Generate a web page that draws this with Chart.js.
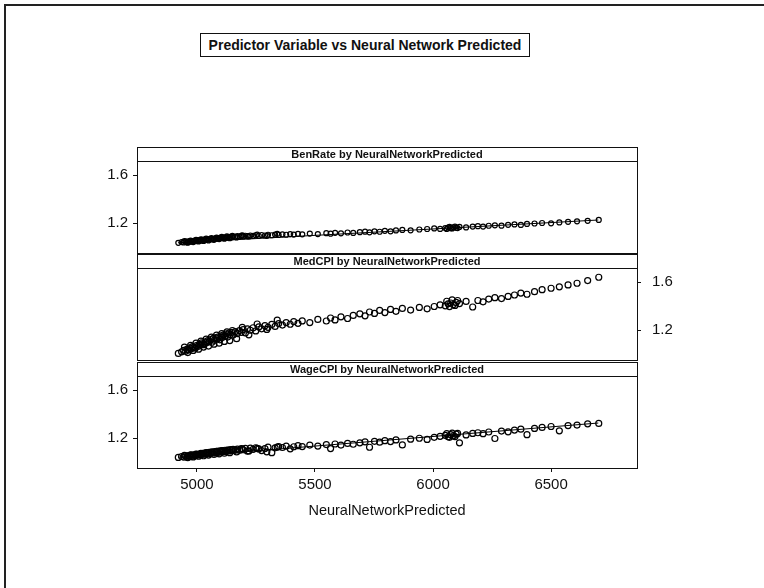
<!DOCTYPE html>
<html>
<head>
<meta charset="utf-8">
<script src="https://cdn.jsdelivr.net/npm/chart.js@4.4.1/dist/chart.umd.min.js"></script>
<style>
  html, body { margin: 0; padding: 0; background: #fff; }
  body { width: 764px; height: 588px; position: relative; overflow: hidden; font-family: "Liberation Sans", Arial, sans-serif; }
  #frame { position: absolute; left: 4px; top: 4px; width: 800px; height: 700px; border-top: 2px solid #222; border-left: 2px solid #222; }
  #title { position: absolute; left: 200px; top: 33px; width: 328px; height: 22px; border: 1.5px solid #111; font-size: 14px; font-weight: bold; line-height: 22px; text-align: center; color: #111; white-space: nowrap; }
  canvas { position: absolute; left: 0; top: 0; }
</style>
</head>
<body>
<div id="frame"></div>
<div id="title">Predictor Variable vs Neural Network Predicted</div>
<canvas id="panel1" width="764" height="588"></canvas>
<canvas id="panel2" width="764" height="588"></canvas>
<canvas id="panel3" width="764" height="588"></canvas>
<script>
const panelNames = [
  "BenRate by NeuralNetworkPredicted",
  "MedCPI by NeuralNetworkPredicted",
  "WageCPI by NeuralNetworkPredicted"
];
const xTicks = [5000, 5500, 6000, 6500];
const yTicks = [1.2, 1.6];

// NeuralNetworkPredicted (shared by all three panels)
const predicted = [
  4921, 4935, 4944, 4952, 4958, 4963, 4970, 4976, 4981, 4987,
  4993, 4998, 5004, 5009, 5014, 5019, 5025, 5030, 5036, 5041,
  5046, 5052, 5058, 5063, 5069, 5074, 5080, 5086, 5091, 5097,
  5102, 5108, 5113, 5119, 5124, 5130, 5136, 5141, 5147, 5153,
  5162, 5171, 5180, 5188, 5196, 5205, 5214, 5226, 5238, 5249,
  5262, 5274, 5288, 5301, 5317, 5331, 5346, 5362, 5378, 5395,
  5410, 5428, 5446, 5478, 5512, 5548, 5566, 5585, 5610, 5638,
  5662, 5690, 5712, 5731, 5752, 5774, 5796, 5820, 5843, 5870,
  5905, 5942, 5975, 6005, 6030, 6052, 6064, 6075, 6086, 6098,
  6112, 6140, 6168, 6190, 6212, 6236, 6262, 6290, 6318, 6345,
  6372, 6398, 6430, 6462, 6500, 6535, 6572, 6610, 6655, 6702,
  4947, 4961, 4973, 4984, 4996, 5007, 5017, 5028, 5039, 5049,
  5061, 5072, 5083, 5094, 5105, 5116, 5127, 5139, 5150, 5168,
  5192, 5220, 5255, 5296, 5340, 6058, 6070, 6081, 6093, 6104
];

const benRate = [
  1.035, 1.041, 1.038, 1.044, 1.040, 1.047, 1.043, 1.050, 1.046, 1.052,
  1.048, 1.055, 1.051, 1.057, 1.053, 1.060, 1.056, 1.062, 1.058, 1.064,
  1.061, 1.066, 1.063, 1.069, 1.065, 1.071, 1.068, 1.074, 1.070, 1.076,
  1.073, 1.078, 1.075, 1.081, 1.077, 1.083, 1.080, 1.085, 1.082, 1.087,
  1.084, 1.090, 1.086, 1.092, 1.088, 1.094, 1.090, 1.096, 1.092, 1.098,
  1.094, 1.100, 1.096, 1.102, 1.098, 1.104, 1.100, 1.106, 1.102, 1.108,
  1.104, 1.110, 1.106, 1.112, 1.108, 1.115, 1.111, 1.118, 1.114, 1.121,
  1.117, 1.124, 1.128, 1.122, 1.131, 1.127, 1.135, 1.131, 1.138, 1.142,
  1.139, 1.146, 1.150, 1.155, 1.151, 1.158, 1.162, 1.157, 1.164, 1.160,
  1.167, 1.163, 1.170, 1.174, 1.170, 1.177, 1.181, 1.178, 1.185, 1.188,
  1.184, 1.192, 1.196, 1.200, 1.197, 1.205, 1.210, 1.214, 1.218, 1.226,
  1.050, 1.036, 1.054, 1.041, 1.060, 1.046, 1.064, 1.050, 1.070, 1.055,
  1.074, 1.060, 1.079, 1.066, 1.084, 1.069, 1.088, 1.074, 1.092, 1.080,
  1.097, 1.088, 1.104, 1.093, 1.110, 1.150, 1.168, 1.155, 1.170, 1.158
];

const medCPI = [
  1.005, 1.018, 1.031, 1.022, 1.040, 1.034, 1.051, 1.043, 1.062, 1.055,
  1.049, 1.071, 1.063, 1.080, 1.074, 1.092, 1.085, 1.078, 1.101, 1.094,
  1.112, 1.104, 1.121, 1.098, 1.130, 1.115, 1.137, 1.126, 1.144, 1.118,
  1.151, 1.139, 1.160, 1.147, 1.168, 1.141, 1.175, 1.162, 1.181, 1.158,
  1.186, 1.170, 1.195, 1.181, 1.203, 1.176, 1.210, 1.198, 1.219, 1.192,
  1.226, 1.210, 1.236, 1.222, 1.247, 1.230, 1.254, 1.241, 1.262, 1.248,
  1.270, 1.256, 1.276, 1.262, 1.288, 1.275, 1.300, 1.284, 1.310, 1.296,
  1.322, 1.335, 1.318, 1.350, 1.338, 1.363, 1.345, 1.372, 1.356, 1.380,
  1.366, 1.388, 1.377, 1.396, 1.410, 1.402, 1.418, 1.425, 1.412, 1.430,
  1.420, 1.438, 1.392, 1.446, 1.435, 1.458, 1.470, 1.462, 1.480, 1.492,
  1.508, 1.498, 1.520, 1.536, 1.548, 1.560, 1.576, 1.590, 1.612, 1.640,
  1.058, 1.012, 1.072, 1.030, 1.090, 1.040, 1.108, 1.058, 1.124, 1.066,
  1.140, 1.082, 1.158, 1.090, 1.170, 1.105, 1.184, 1.112, 1.196, 1.128,
  1.222, 1.160, 1.250, 1.205, 1.282, 1.440, 1.395, 1.452, 1.405, 1.446
];

const wageCPI = [
  1.038, 1.046, 1.041, 1.050, 1.043, 1.053, 1.047, 1.058, 1.049, 1.060,
  1.054, 1.063, 1.057, 1.066, 1.060, 1.071, 1.063, 1.074, 1.066, 1.078,
  1.069, 1.080, 1.072, 1.083, 1.075, 1.086, 1.078, 1.089, 1.081, 1.092,
  1.084, 1.095, 1.086, 1.098, 1.089, 1.100, 1.092, 1.103, 1.094, 1.105,
  1.097, 1.108, 1.099, 1.111, 1.102, 1.113, 1.090, 1.116, 1.106, 1.119,
  1.109, 1.095, 1.112, 1.124, 1.078, 1.118, 1.129, 1.121, 1.132, 1.110,
  1.127, 1.136, 1.129, 1.141, 1.133, 1.145, 1.112, 1.150, 1.141, 1.155,
  1.148, 1.160, 1.168, 1.123, 1.172, 1.165, 1.178, 1.170, 1.184, 1.142,
  1.190, 1.198, 1.188, 1.206, 1.214, 1.222, 1.210, 1.228, 1.219, 1.232,
  1.160, 1.226, 1.238, 1.244, 1.236, 1.250, 1.196, 1.258, 1.252, 1.266,
  1.274, 1.228, 1.280, 1.288, 1.296, 1.260, 1.304, 1.308, 1.318, 1.322,
  1.056, 1.036, 1.060, 1.042, 1.066, 1.048, 1.072, 1.052, 1.077, 1.058,
  1.082, 1.063, 1.088, 1.068, 1.092, 1.073, 1.098, 1.078, 1.102, 1.084,
  1.108, 1.092, 1.114, 1.085, 1.124, 1.236, 1.206, 1.240, 1.212, 1.238
];

// fitted lines drawn in the BenRate and WageCPI panels
const fitX = [4920, 6700];
const benRateFit = [1.035, 1.225];
const wageCPIFit = [1.040, 1.325];

const INK = "#000";
const FONT = '"Liberation Sans", Arial, sans-serif';

const stripPlugin = {
  id: "strip",
  afterDraw(chart, args, opts) {
    const { ctx, chartArea: a } = chart;
    const h = 14;
    ctx.save();
    ctx.strokeStyle = "#111";
    ctx.lineWidth = 1;
    ctx.strokeRect(a.left + 0.5, a.top - h + 0.5, a.right - a.left, a.bottom - a.top + h);
    ctx.beginPath();
    ctx.moveTo(a.left, a.top + 0.5);
    ctx.lineTo(a.right, a.top + 0.5);
    ctx.stroke();
    ctx.font = "bold 11px " + FONT;
    ctx.fillStyle = "#111";
    ctx.textAlign = "center";
    ctx.textBaseline = "middle";
    ctx.fillText(opts.text, (a.left + a.right) / 2, a.top - h / 2 + 1);
    ctx.restore();
  }
};

function toPoints(xs, ys) {
  return xs.map((x, i) => ({ x: x, y: ys[i] }));
}

function makePanel(canvasId, name, values, fit, settings) {
  const datasets = [
    {
      type: "scatter",
      data: toPoints(predicted, values),
      pointStyle: "circle",
      pointRadius: settings.radius,
      borderColor: INK,
      borderWidth: 1.2,
      backgroundColor: "rgba(0,0,0,0)"
    }
  ];
  if (fit) {
    datasets.push({
      type: "line",
      data: toPoints(fitX, fit),
      borderColor: INK,
      borderWidth: 1,
      pointRadius: 0,
      fill: false
    });
  }

  return new Chart(document.getElementById(canvasId), {
    type: "scatter",
    data: { datasets: datasets },
    options: {
      responsive: false,
      animation: false,
      devicePixelRatio: 1,
      layout: { padding: settings.padding },
      plugins: {
        legend: { display: false },
        tooltip: { enabled: false },
        strip: { text: name }
      },
      scales: {
        x: {
          type: "linear",
          min: 4746,
          max: 6864,
          display: settings.showX,
          afterBuildTicks: (scale) => {
            scale.ticks = xTicks.map((v) => ({ value: v }));
          },
          afterFit: (scale) => {
            scale.height = settings.showX ? 60 : 0;
          },
          border: { display: false },
          grid: { drawOnChartArea: false, tickLength: 4, color: "#111" },
          ticks: {
            color: "#111",
            padding: 4,
            maxRotation: 0,
            font: { family: FONT, size: 15 },
            callback: (v) => String(v)
          },
          title: {
            display: true,
            text: "NeuralNetworkPredicted",
            color: "#111",
            font: { family: FONT, size: 14.5 },
            padding: { top: 0, bottom: 8 }
          }
        },
        y: {
          type: "linear",
          min: 0.95,
          max: 1.717,
          position: settings.yPos,
          afterBuildTicks: (scale) => {
            scale.ticks = yTicks.map((v) => ({ value: v }));
          },
          afterFit: (scale) => {
            scale.width = settings.yWidth;
          },
          border: { display: false },
          grid: { drawOnChartArea: false, tickLength: 4, color: "#111" },
          ticks: {
            color: "#111",
            padding: settings.yPad,
            font: { family: FONT, size: 15 },
            callback: (v) => Number(v).toFixed(1)
          }
        }
      }
    },
    plugins: [stripPlugin]
  });
}

makePanel("panel1", panelNames[0], benRate, benRateFit, {
  radius: 2.5,
  showX: false,
  yPos: "left",
  yWidth: 137,
  yPad: 5,
  padding: { left: 0, right: 127, top: 161, bottom: 335 }
});

makePanel("panel2", panelNames[1], medCPI, null, {
  radius: 3,
  showX: false,
  yPos: "right",
  yWidth: 127,
  yPad: 11,
  padding: { left: 137, right: 0, top: 268, bottom: 228 }
});

makePanel("panel3", panelNames[2], wageCPI, wageCPIFit, {
  radius: 3,
  showX: true,
  yPos: "left",
  yWidth: 137,
  yPad: 5,
  padding: { left: 0, right: 127, top: 376, bottom: 60 }
});
</script>
</body>
</html>
